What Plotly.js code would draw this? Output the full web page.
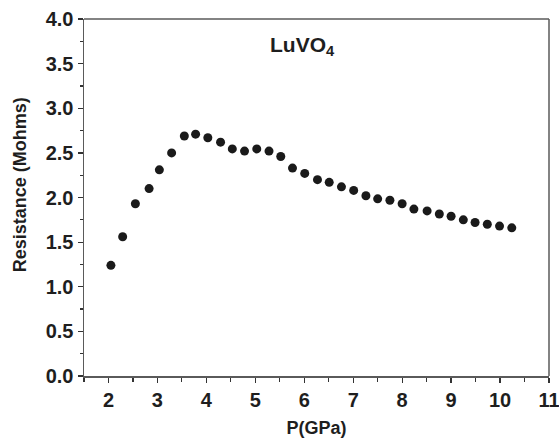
<!DOCTYPE html>
<html>
<head>
<meta charset="utf-8">
<script src="https://cdn.plot.ly/plotly-3.0.1.min.js"></script>
<style>html,body{margin:0;padding:0;background:#fff;}#chart{width:559px;height:441px;}</style>
</head>
<body>
<div id="chart"></div>
<script>
var pressure = [2.05, 2.29, 2.55, 2.83, 3.04, 3.29, 3.55, 3.78, 4.03, 4.29, 4.53, 4.78, 5.03, 5.28, 5.52, 5.76, 6.01, 6.27, 6.51, 6.76, 7.01, 7.26, 7.50, 7.75, 8.00, 8.24, 8.51, 8.76, 9.00, 9.25, 9.49, 9.74, 9.99, 10.24];
var resistance = [1.24, 1.56, 1.93, 2.10, 2.31, 2.50, 2.69, 2.71, 2.67, 2.62, 2.545, 2.52, 2.545, 2.52, 2.46, 2.33, 2.27, 2.20, 2.17, 2.12, 2.08, 2.02, 1.985, 1.97, 1.93, 1.87, 1.85, 1.815, 1.79, 1.75, 1.72, 1.70, 1.68, 1.66];
var xTickVals = [2, 3, 4, 5, 6, 7, 8, 9, 10, 11];
var yTickVals = [0, 0.5, 1, 1.5, 2, 2.5, 3, 3.5, 4];
var yTickText = ["0.0", "0.5", "1.0", "1.5", "2.0", "2.5", "3.0", "3.5", "4.0"];

var fam = "Liberation Sans, Arial, sans-serif";
var ink = "#1e1e1e";
var axisCol = "#5a5a5a";

var trace = {
  x: pressure, y: resistance, type: "scatter", mode: "markers",
  marker: {color: "#1a1a1a", size: 9, line: {width: 0}},
  hoverinfo: "x+y"
};

var layout = {
  width: 559, height: 441,
  margin: {l: 83.5, r: 10, t: 18.7, b: 65},
  paper_bgcolor: "#fff", plot_bgcolor: "#fff",
  showlegend: false,
  font: {family: fam, color: ink},
  xaxis: {
    range: [1.5, 11.0005], tickvals: xTickVals, ticktext: xTickVals.map(String),
    ticks: "outside", ticklen: 5, tickwidth: 1.2, tickcolor: "#333",
    minor: {dtick: 0.5, tick0: 1.5, ticks: "outside", ticklen: 4, tickwidth: 1.2, tickcolor: "#333"},
    showline: true, linecolor: axisCol, linewidth: 1.5, mirror: false,
    showgrid: false, zeroline: false, ticklabeloverflow: "allow",
    tickfont: {family: fam, size: 20, weight: "bold", color: ink},
    title: {text: "P(GPa)", font: {family: fam, size: 18, weight: "bold", color: ink}, standoff: 12}
  },
  yaxis: {
    range: [0, 4.0005], tickvals: yTickVals, ticktext: yTickText,
    ticks: "outside", ticklen: 5, tickwidth: 1.2, tickcolor: "#333",
    minor: {dtick: 0.25, tick0: 0, ticks: "outside", ticklen: 3, tickwidth: 1.2, tickcolor: "#333"},
    showline: true, linecolor: axisCol, linewidth: 1.5, mirror: false,
    showgrid: false, zeroline: false, ticklabeloverflow: "allow",
    tickfont: {family: fam, size: 20, weight: "bold", color: ink}
  },
  shapes: [
    {type: "line", xref: "paper", yref: "paper", x0: 0, x1: 1, y0: 1, y1: 1, line: {color: axisCol, width: 1.5}},
    {type: "line", xref: "paper", yref: "paper", x0: 1, x1: 1, y0: 0, y1: 1, line: {color: axisCol, width: 1.5}}
  ],
  annotations: [{
    xref: "paper", yref: "paper", x: 0.47, y: 0.925, xanchor: "center", yanchor: "middle",
    text: "LuVO<sub>4</sub>", showarrow: false,
    font: {family: fam, size: 21, weight: "bold", color: ink}
  }, {
    xref: "paper", yref: "paper", x: -0.137, y: 0.535, xanchor: "center", yanchor: "middle",
    text: "Resistance (Mohms)", textangle: -90, showarrow: false,
    font: {family: fam, size: 18, weight: "bold", color: ink}
  }]
};

Plotly.newPlot("chart", [trace], layout, {displayModeBar: false, staticPlot: true});
</script>
</body>
</html>
